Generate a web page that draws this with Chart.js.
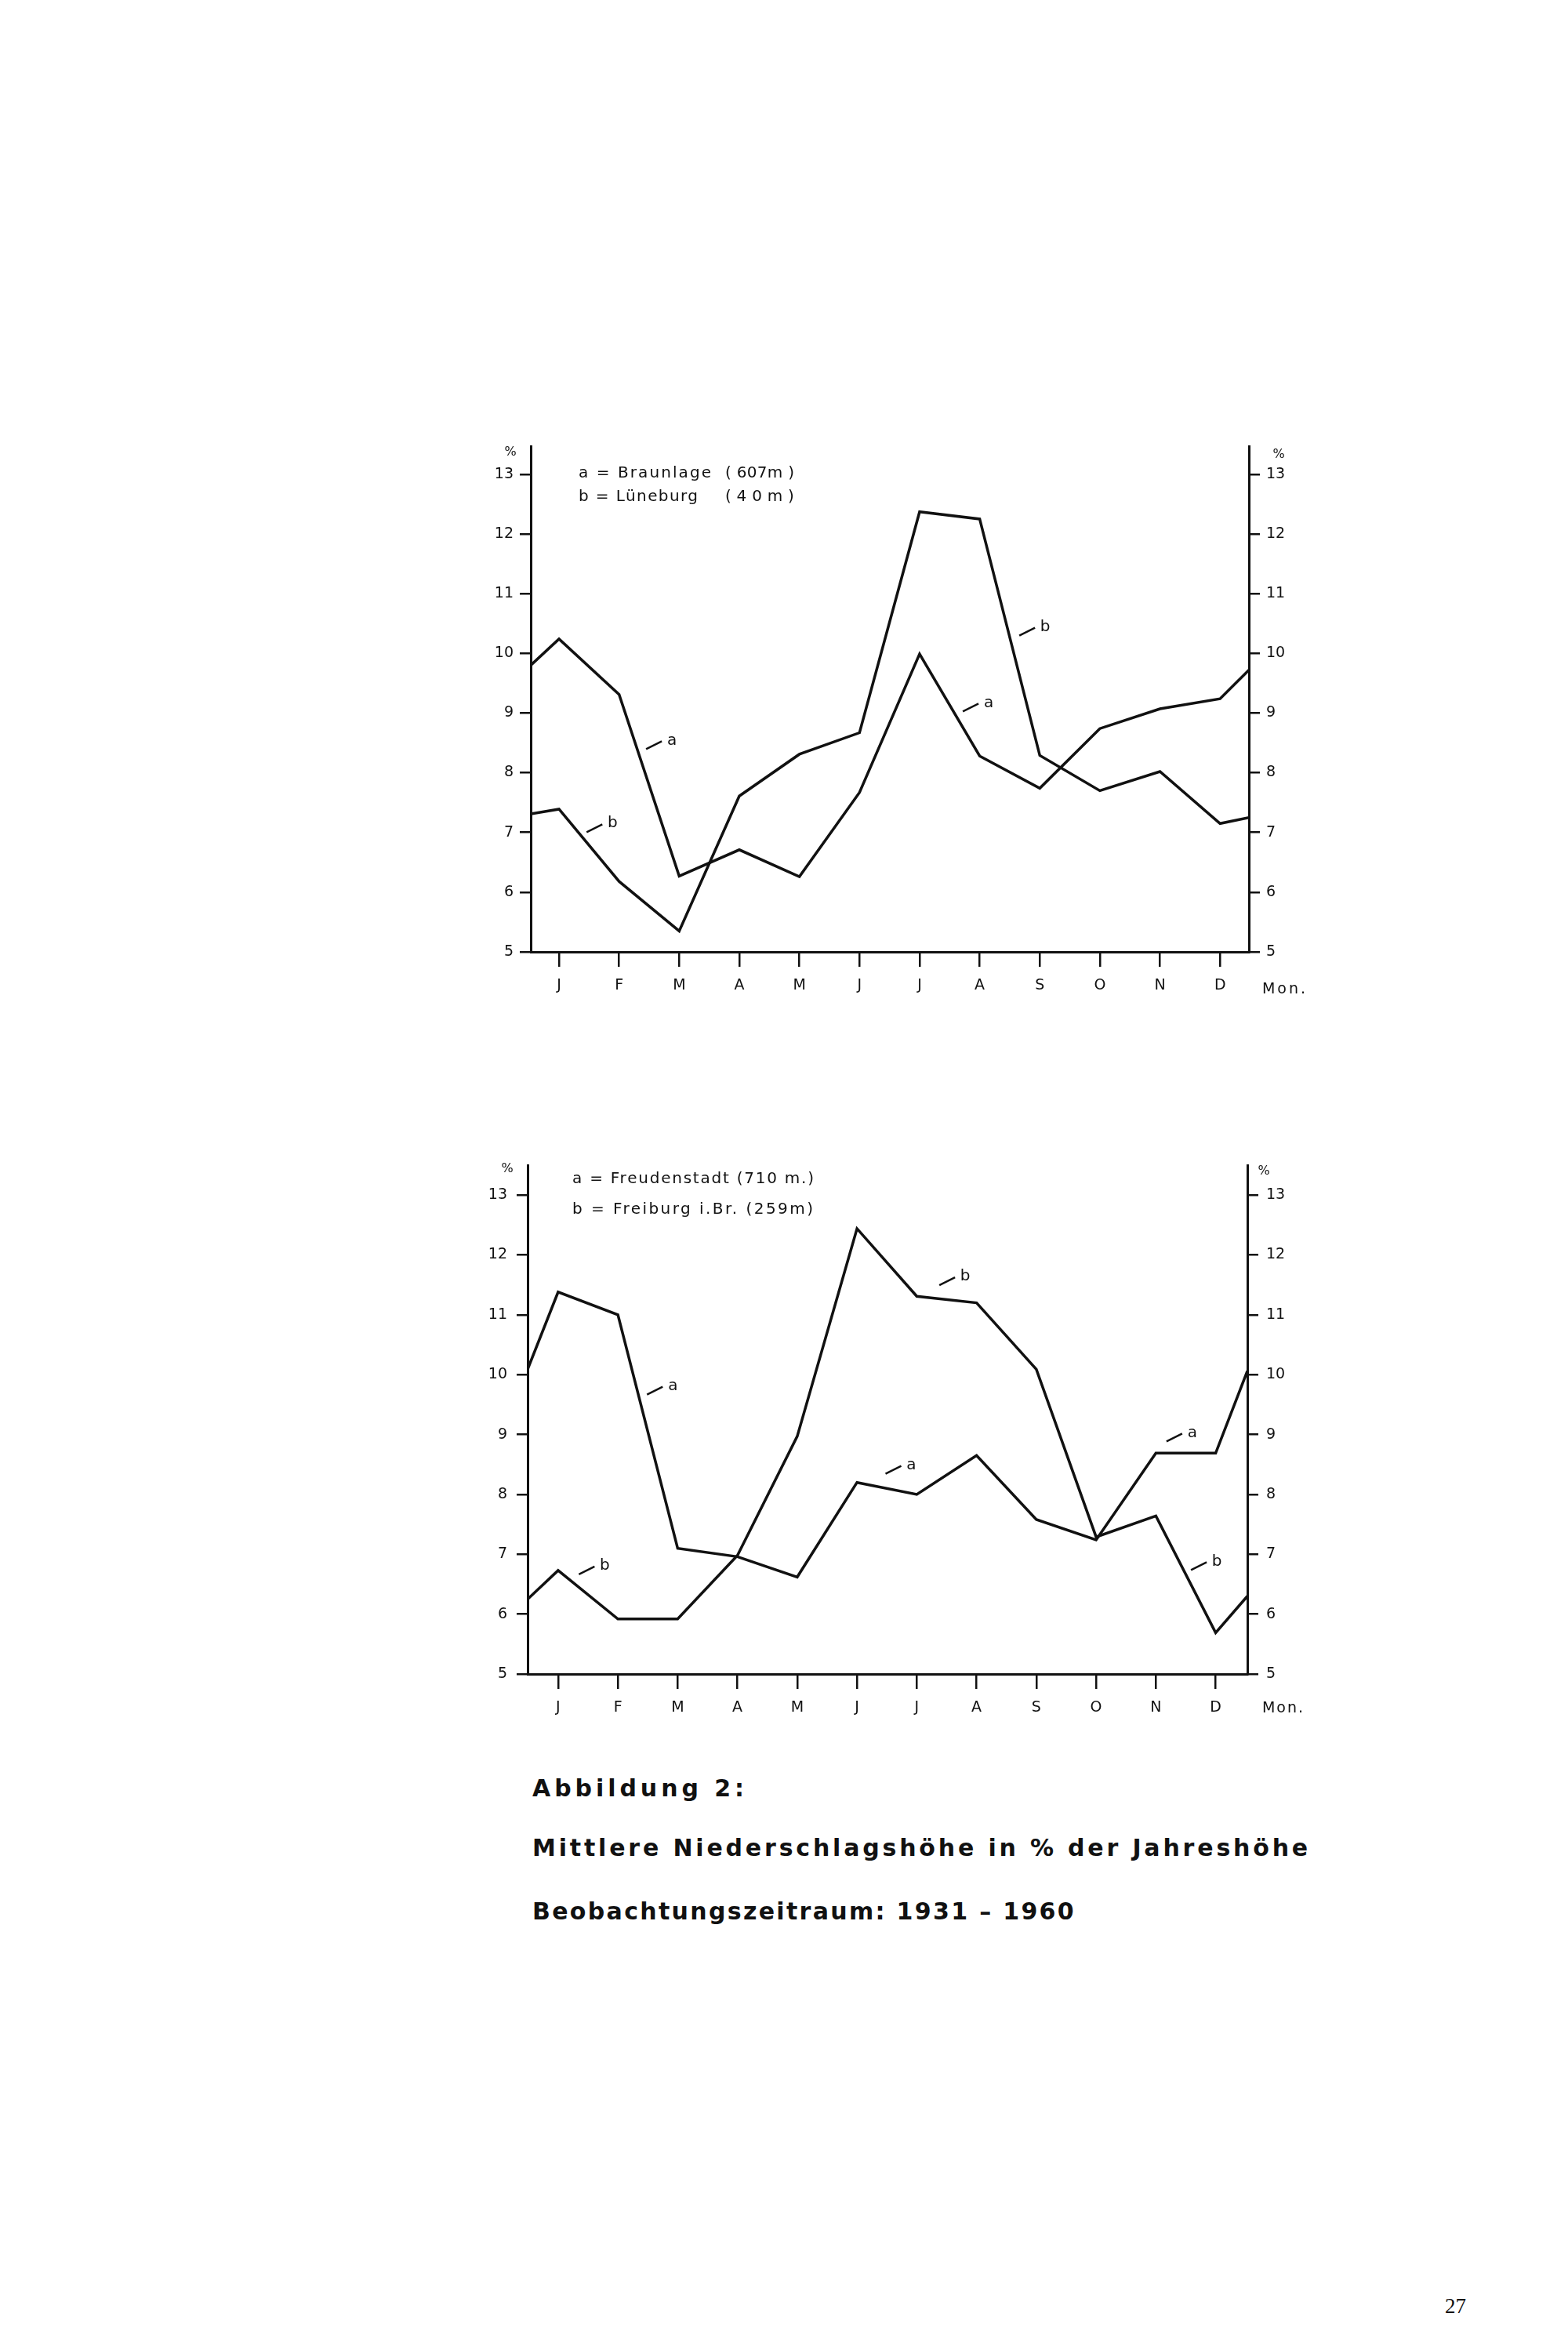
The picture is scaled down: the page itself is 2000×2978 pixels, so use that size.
<!DOCTYPE html>
<html>
<head>
<meta charset="utf-8">
<script src="https://cdn.jsdelivr.net/npm/chart.js@4.4.1/dist/chart.umd.min.js"></script>
<style>
html,body{margin:0;padding:0;background:#fff;}
body{width:2000px;height:2978px;position:relative;overflow:hidden;}
.cv{position:absolute;}
.txt{position:absolute;white-space:nowrap;font-family:"DejaVu Sans";color:#111;line-height:1;}
</style>
</head>
<body>
<div class="cv" style="left:560px;top:540px;width:1160px;height:760px"><canvas id="c1" width="1160" height="760"></canvas></div>
<div class="cv" style="left:560px;top:1460px;width:1160px;height:760px"><canvas id="c2" width="1160" height="760"></canvas></div>
<script>
// ---------- data ----------
const MONTHS = ['J','F','M','A','M','J','J','A','S','O','N','D'];
const Y_TICKS = [5,6,7,8,9,10,11,12,13];

// Chart 1: a = Braunlage, b = Lüneburg (monthly values J..D, plus values at left/right frame edge)
const BRAUNLAGE      = [10.24, 9.31, 6.27, 6.71, 6.26, 7.67, 9.99, 8.28, 7.74, 8.74, 9.07, 9.24];
const BRAUNLAGE_EDGE = [9.80, 9.72];
const LUENEBURG      = [7.39, 6.18, 5.35, 7.61, 8.31, 8.67, 12.37, 12.25, 8.29, 7.70, 8.02, 7.15];
const LUENEBURG_EDGE = [7.31, 7.25];

// Chart 2: a = Freudenstadt, b = Freiburg i.Br.
const FREUDENSTADT      = [11.38, 11.00, 7.10, 6.96, 6.62, 8.20, 8.00, 8.65, 7.58, 7.24, 8.69, 8.69];
const FREUDENSTADT_EDGE = [10.09, 10.06];
const FREIBURG          = [6.73, 5.92, 5.92, 6.98, 8.97, 12.44, 11.31, 11.20, 10.09, 7.29, 7.64, 5.69];
const FREIBURG_EDGE     = [6.25, 6.30];

// curve labels (letter, month position, value)
const NOTES_1 = [
  {t:'a', x:1.88, y:8.54}, {t:'b', x:0.89, y:7.15},
  {t:'b', x:8.09, y:10.44}, {t:'a', x:7.15, y:9.17}
];
const NOTES_2 = [
  {t:'a', x:1.92, y:9.81}, {t:'b', x:0.78, y:6.81},
  {t:'b', x:6.81, y:11.64}, {t:'a', x:5.91, y:8.49},
  {t:'a', x:10.61, y:9.03}, {t:'b', x:11.02, y:6.88}
];

const LEGEND_1 = [['a = Braunlage', '( 607m )'], ['b = Lüneburg', '( 4 0  m )']];
const LEGEND_2 = ['a = Freudenstadt (710 m.)', 'b = Freiburg i.Br. (259m)'];
const CAPTION = ['Abbildung  2:', 'Mittlere  Niederschlagshöhe in % der Jahreshöhe', 'Beobachtungszeitraum:  1931 – 1960'];
const PAGE_NO = '27';

// ---------- charts ----------
const INK = '#111';
const notesPlugin = {
  id: 'notes',
  afterDatasetsDraw(chart, args, opts) {
    const ctx = chart.ctx, x = chart.scales.x, y = chart.scales.y;
    ctx.save();
    ctx.strokeStyle = INK; ctx.fillStyle = INK; ctx.lineWidth = 2.5;
    ctx.font = '20px "DejaVu Sans"';
    ctx.textAlign = 'center'; ctx.textBaseline = 'middle';
    for (const n of (opts.items || [])) {
      const px = x.getPixelForValue(n.x), py = y.getPixelForValue(n.y);
      ctx.beginPath(); ctx.moveTo(px - 33, py + 11); ctx.lineTo(px - 13, py + 1); ctx.stroke();
      ctx.fillText(n.t, px, py);
    }
    ctx.restore();
  }
};

function makeChart(id, xmin, xmax, ymax, sA, eA, sB, eB, notes, g) {
  const build = (vals, edge) => [{x:xmin, y:edge[0]}, ...vals.map((v,i)=>({x:i, y:v})), {x:xmax, y:edge[1]}];
  const ds = d => ({data:d, borderColor:INK, borderWidth:3.5, pointRadius:0, tension:0, fill:false, borderJoinStyle:'miter'});
  const tickFont = {family:'"DejaVu Sans"', size:19};
  const yAxis = (pos, width, pad) => ({
    type:'linear', position:pos, min:5, max:ymax,
    afterBuildTicks: s => { s.ticks = Y_TICKS.map(v => ({value:v})); },
    afterFit: s => { s.width = width; },
    ticks:{font:tickFont, color:INK, padding:pad, callback: v => String(v)},
    grid:{drawOnChartArea:false, drawTicks:true, tickLength:14, color:INK, lineWidth:2.5},
    border:{display:true, color:INK, width:3}
  });
  return new Chart(document.getElementById(id), {
    type:'line',
    data:{datasets:[ds(build(sA, eA)), ds(build(sB, eB))]},
    options:{
      responsive:false, animation:false, devicePixelRatio:1,
      layout:{padding:{top:g.padTop, left:0, right:0, bottom:0}},
      plugins:{legend:{display:false}, tooltip:{enabled:false}, notes:{items:notes}},
      scales:{
        x:{type:'linear', position:'bottom', min:xmin, max:xmax,
           afterBuildTicks: s => { s.ticks = MONTHS.map((m,i) => ({value:i})); },
           afterFit: s => { s.height = g.xh; },
           ticks:{font:tickFont, color:INK, padding:13, autoSkip:false, maxRotation:0, callback: v => MONTHS[v] ?? ''},
           grid:{drawOnChartArea:false, drawTicks:true, tickLength:19, color:INK, lineWidth:2.5},
           border:{display:true, color:INK, width:3}},
        y: yAxis('left', g.yl, g.padL),
        y2: yAxis('right', g.yr, g.padR)
      }
    },
    plugins:[notesPlugin]
  });
}

makeChart('c1', -0.47, 11.48, 13.47, BRAUNLAGE, BRAUNLAGE_EDGE, LUENEBURG, LUENEBURG_EDGE, NOTES_1,
          {padTop:29, yl:117, yr:127, xh:86, padL:8, padR:8});
makeChart('c2', -0.51, 11.53, 13.50, FREUDENSTADT, FREUDENSTADT_EDGE, FREIBURG, FREIBURG_EDGE, NOTES_2,
          {padTop:26, yl:113, yr:129, xh:85, padL:12, padR:10});

// ---------- page texts ----------
function place(text, left, baseline, size, o = {}) {
  const d = document.createElement('div');
  d.className = 'txt';
  d.textContent = text;
  d.style.fontSize = size + 'px';
  if (o.family) d.style.fontFamily = o.family;
  if (o.bold) d.style.fontWeight = 'bold';
  const k = o.serif ? 0.8375 : 0.846;
  d.style.top = (baseline - k * size) + 'px';
  d.style.left = left + 'px';
  document.body.appendChild(d);
  if (o.width) {
    const w = d.getBoundingClientRect().width;
    const n = [...text].length;
    if (n > 1) d.style.letterSpacing = ((o.width - w) / (n - 1)) + 'px';
  }
  if (o.center) d.style.transform = 'translateX(-50%)';
  return d;
}

// legends
place(LEGEND_1[0][0], 738, 609, 20, {width:169});
place(LEGEND_1[0][1], 925, 609, 20, {width:88});
place(LEGEND_1[1][0], 738, 639, 20, {width:152});
place(LEGEND_1[1][1], 925, 639, 20, {width:88});
place(LEGEND_2[0], 730, 1509, 20, {width:308});
place(LEGEND_2[1], 730, 1548, 20, {width:307});

// unit labels
place('%', 651, 582, 16, {center:true});
place('%', 1631, 585, 16, {center:true});
place('%', 647, 1496, 16, {center:true});
place('%', 1612, 1499, 16, {center:true});
place('Mon.', 1610, 1267, 19, {width:55});
place('Mon.', 1610, 2184, 19, {width:52});

// caption
place(CAPTION[0], 679, 2291, 30, {width:275, bold:true});
place(CAPTION[1], 679, 2367, 30, {width:993, bold:true});
place(CAPTION[2], 679, 2448, 30, {width:693, bold:true});

// page number
place(PAGE_NO, 1843, 2951, 27, {family:'"Liberation Serif"', serif:true});
</script>
</body>
</html>
